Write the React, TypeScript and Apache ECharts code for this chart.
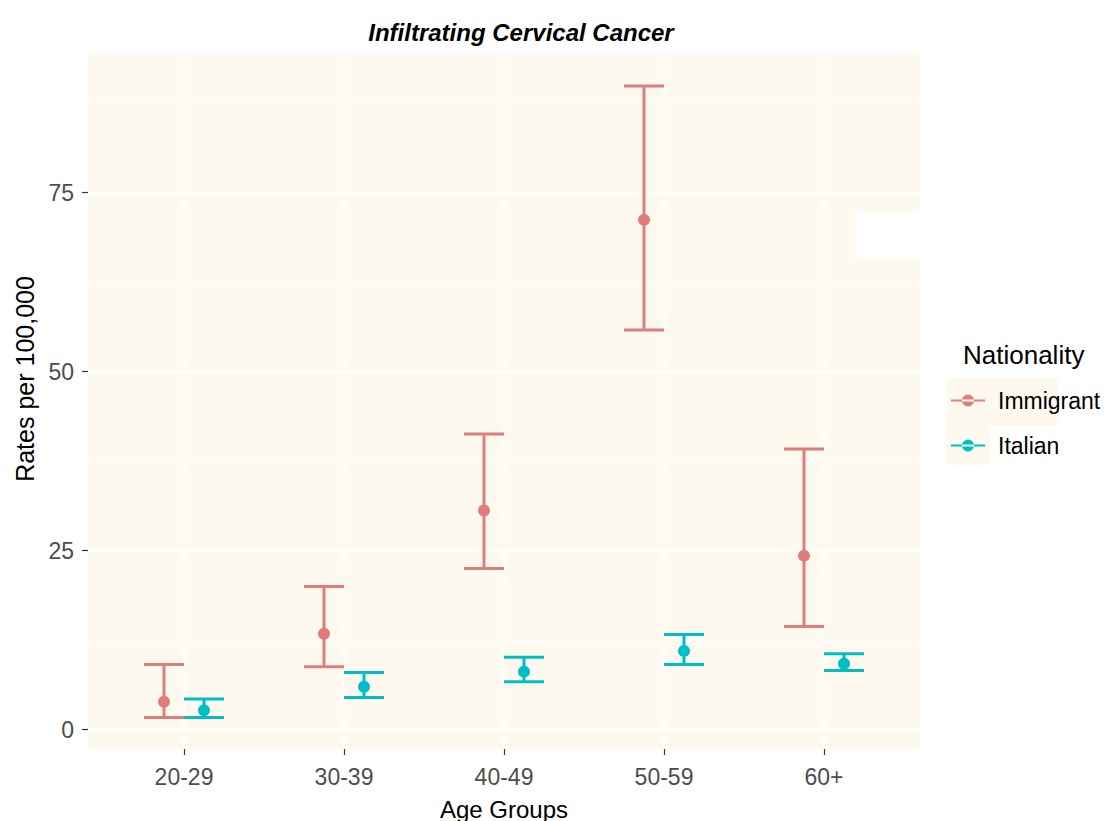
import React, { useEffect, useRef } from "react";
import * as echarts from "echarts";

const categories = ["20-29", "30-39", "40-49", "50-59", "60+"];
const immigrantRate = [3.9, 13.4, 30.6, 71.2, 24.3];
const immigrantLower = [1.7, 8.8, 22.5, 55.8, 14.4];
const immigrantUpper = [9.1, 20.0, 41.3, 89.9, 39.2];
const italianRate = [2.7, 6.0, 8.1, 11.0, 9.2];
const italianLower = [1.7, 4.5, 6.7, 9.1, 8.25];
const italianUpper = [4.3, 8.0, 10.1, 13.3, 10.6];
const yTicks = [0, 25, 50, 75];
const yMinorTicks = [12.5, 37.5, 62.5, 87.5];

const IMM = "#E07C7A";
const ITA = "#00BFC4";
const FONT = "Liberation Sans, Arial, sans-serif";

function buildData(rate: number[], lo: number[], hi: number[]) {
  return categories.map((_, i) => [i + 1, lo[i], rate[i], hi[i]]);
}

function errRender(offset: number, color: string) {
  return (params: any, api: any) => {
    const x = api.value(0) + offset;
    const lo = api.coord([x, api.value(1)]);
    const mid = api.coord([x, api.value(2)]);
    const hi = api.coord([x, api.value(3)]);
    const l = api.coord([x - 0.125, 0])[0];
    const r = api.coord([x + 0.125, 0])[0];
    const st = { stroke: color, lineWidth: 3 };
    return {
      type: "group",
      children: [
        { type: "line", shape: { x1: lo[0], y1: lo[1], x2: hi[0], y2: hi[1] }, style: st },
        { type: "line", shape: { x1: l, y1: hi[1], x2: r, y2: hi[1] }, style: st },
        { type: "line", shape: { x1: l, y1: lo[1], x2: r, y2: lo[1] }, style: st },
        { type: "circle", shape: { cx: mid[0], cy: mid[1], r: 6 }, style: { fill: color } },
      ],
    };
  };
}

export default function App() {
  const ref = useRef<HTMLDivElement>(null);
  useEffect(() => {
    if (!ref.current) return;
    const chart = echarts.init(ref.current, null, { renderer: "svg" });
    const gridLines = [
      ...yTicks.map((v) => ["h", v, 1.6]),
      ...yMinorTicks.map((v) => ["h", v, 0.8]),
      ...categories.map((_, i) => ["v", i + 1, 1.6]),
    ];
    chart.setOption({
      animation: false,
      backgroundColor: "#ffffff",
      title: [
        {
          text: "Infiltrating Cervical Cancer",
          left: 516,
          top: 15,
          textAlign: "center",
          textStyle: { fontFamily: FONT, fontSize: 24, fontWeight: "bold", fontStyle: "italic", color: "#000" },
        },
        {
          text: "Nationality",
          left: 958,
          top: 337,
          textStyle: { fontFamily: FONT, fontSize: 26, fontWeight: "normal", color: "#000" },
        },
      ],
      graphic: [
        { type: "rect", shape: { x: 947, y: 378, width: 43, height: 87 }, style: { fill: "#FDF9EF" }, z: -10 },
        { type: "rect", shape: { x: 990, y: 378, width: 69, height: 48 }, style: { fill: "#FDF9EF" }, z: -10 },
        { type: "rect", shape: { x: 855, y: 212, width: 66, height: 47 }, style: { fill: "#ffffff" }, z: 100 },
      ],
      legend: {
        orient: "vertical",
        left: 946,
        top: 384,
        itemWidth: 34,
        itemHeight: 12,
        itemGap: 22,
        data: ["Immigrant", "Italian"],
        icon: "path://M0,5h34v2h-34z M17,6m-6,0a6,6 0 1,0 12,0a6,6 0 1,0 -12,0z",
        textStyle: { fontFamily: FONT, fontSize: 23, color: "#000", padding: [0, 0, 0, 8] },
        z: 5,
      },
      grid: {
        left: 88,
        right: 190,
        top: 53,
        bottom: 72,
        show: true,
        backgroundColor: "#FDF9EF",
        borderWidth: 0,
        containLabel: false,
        outerBoundsMode: "none",
      },
      xAxis: {
        type: "value",
        min: 0.4,
        max: 5.6,
        name: "Age Groups",
        nameLocation: "middle",
        nameGap: 48,
        nameTextStyle: { fontFamily: FONT, fontSize: 24, color: "#000" },
        axisLine: { show: false, onZero: false },
        axisTick: { show: true, customValues: [1, 2, 3, 4, 5], length: 6, lineStyle: { color: "#333", width: 1.2 } },
        axisLabel: {
          customValues: [1, 2, 3, 4, 5],
          formatter: (v: number) => categories[Math.round(v) - 1] ?? "",
          fontFamily: FONT,
          fontSize: 23,
          color: "#4D4D4D",
          margin: 16,
        },
        splitLine: { show: false },
      },
      yAxis: {
        type: "value",
        min: -2.7,
        max: 94.5,
        name: "Rates per 100,000",
        nameLocation: "middle",
        nameGap: 51,
        nameRotate: 90,
        nameTextStyle: { fontFamily: FONT, fontSize: 25, color: "#000", padding: [0, 0, 0, 44] },
        axisLine: { show: false, onZero: false },
        axisTick: { show: true, customValues: yTicks, length: 6, lineStyle: { color: "#333", width: 1.2 } },
        axisLabel: {
          customValues: yTicks,
          fontFamily: FONT,
          fontSize: 23,
          color: "#4D4D4D",
          margin: 14,
        },
        splitLine: { show: false },
      },
      series: [
        {
          type: "custom",
          name: "gridlines",
          silent: true,
          z: 1,
          data: gridLines,
          encode: { x: -1, y: -1 },
          renderItem: (params: any, api: any) => {
            const cs = params.coordSys;
            const kind = gridLines[params.dataIndex][0];
            const v = gridLines[params.dataIndex][1] as number;
            const w = gridLines[params.dataIndex][2] as number;
            if (kind === "h") {
              const y = api.coord([1, v])[1];
              return { type: "line", shape: { x1: cs.x, y1: y, x2: cs.x + cs.width, y2: y }, style: { stroke: "#ffffff", lineWidth: w } };
            }
            const x = api.coord([v, 0])[0];
            return { type: "line", shape: { x1: x, y1: cs.y, x2: x, y2: cs.y + cs.height }, style: { stroke: "#ffffff", lineWidth: w } };
          },
        },
        {
          type: "custom",
          name: "Immigrant",
          z: 3,
          itemStyle: { color: IMM },
          data: buildData(immigrantRate, immigrantLower, immigrantUpper),
          encode: { x: 0, y: [1, 2, 3] },
          renderItem: errRender(-0.125, IMM),
        },
        {
          type: "custom",
          name: "Italian",
          z: 3,
          itemStyle: { color: ITA },
          data: buildData(italianRate, italianLower, italianUpper),
          encode: { x: 0, y: [1, 2, 3] },
          renderItem: errRender(0.125, ITA),
        },
      ],
    });
    return () => chart.dispose();
  }, []);
  return <div ref={ref} style={{ width: 1110, height: 821, position: "absolute", left: 0, top: 0 }} />;
}
